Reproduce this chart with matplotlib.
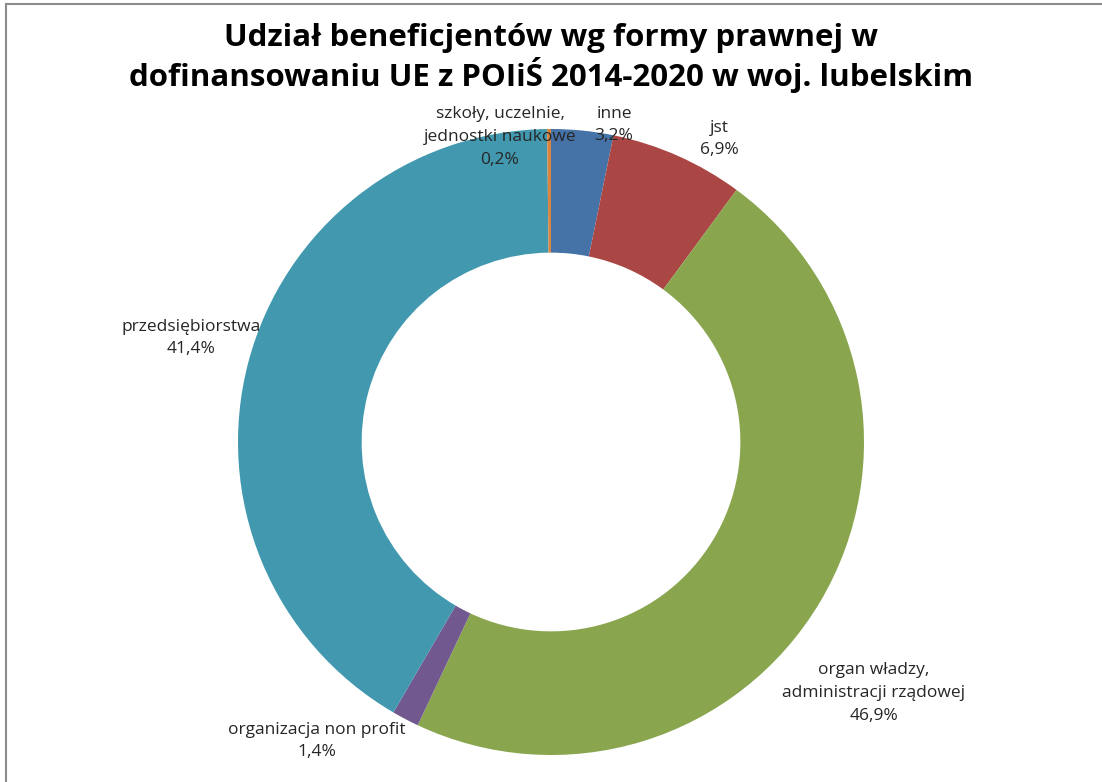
import matplotlib.pyplot as plt
from matplotlib.lines import Line2D

# Data
labels = ["inne", "jst", "organ władzy,\nadministracji rządowej", "organizacja non profit",
          "przedsiębiorstwa", "szkoły, uczelnie,\njednostki naukowe"]
shares = [3.2, 6.9, 46.9, 1.4, 41.4, 0.2]
pct_text = ["3,2%", "6,9%", "46,9%", "1,4%", "41,4%", "0,2%"]
colors = ["#4572A7", "#AA4643", "#89A54E", "#71588F", "#4198AF", "#DB843D"]

# Label centres in pixel coordinates (x, y from top)
label_pos = [(614, 125), (719, 139), (874, 693), (317, 741), (191, 338), (500, 137)]

W, H = 1102, 782
fig = plt.figure(figsize=(W / 100, H / 100), dpi=100)
ax = fig.add_axes([0, 0, 1, 1])

# Donut
cx, cy, r = 551, H - 442, 313
ax.pie(shares, colors=colors, startangle=90, counterclock=False,
       center=(cx, cy), radius=r, frame=True,
       wedgeprops=dict(width=r * 0.395, linewidth=0))
ax.set_xlim(0, W)
ax.set_ylim(0, H)
ax.set_aspect('auto')
ax.axis('off')

# Data labels
for lab, pct, (x, y) in zip(labels, pct_text, label_pos):
    ax.text(x, H - y, lab + "\n" + pct, ha='center', va='center', fontsize=12.5,
            family='Open Sans', color='#262626', linespacing=1.55)

# Title
fig.text(0.5, 1 - 58 / H, "Udział beneficjentów wg formy prawnej w\ndofinansowaniu UE z POIiŚ 2014-2020 w woj. lubelskim",
         ha='center', va='center', fontsize=22.5, fontweight='bold', family='Open Sans',
         color='black', linespacing=1.15)

# Chart border (top and left edges visible)
fig.add_artist(Line2D([6 / W, 1], [1 - 4 / H, 1 - 4 / H], color='#8c8c8c', lw=1.5))
fig.add_artist(Line2D([6 / W, 6 / W], [0, 1 - 4 / H], color='#8c8c8c', lw=1.5))

fig.savefig("out.png", dpi=100)
